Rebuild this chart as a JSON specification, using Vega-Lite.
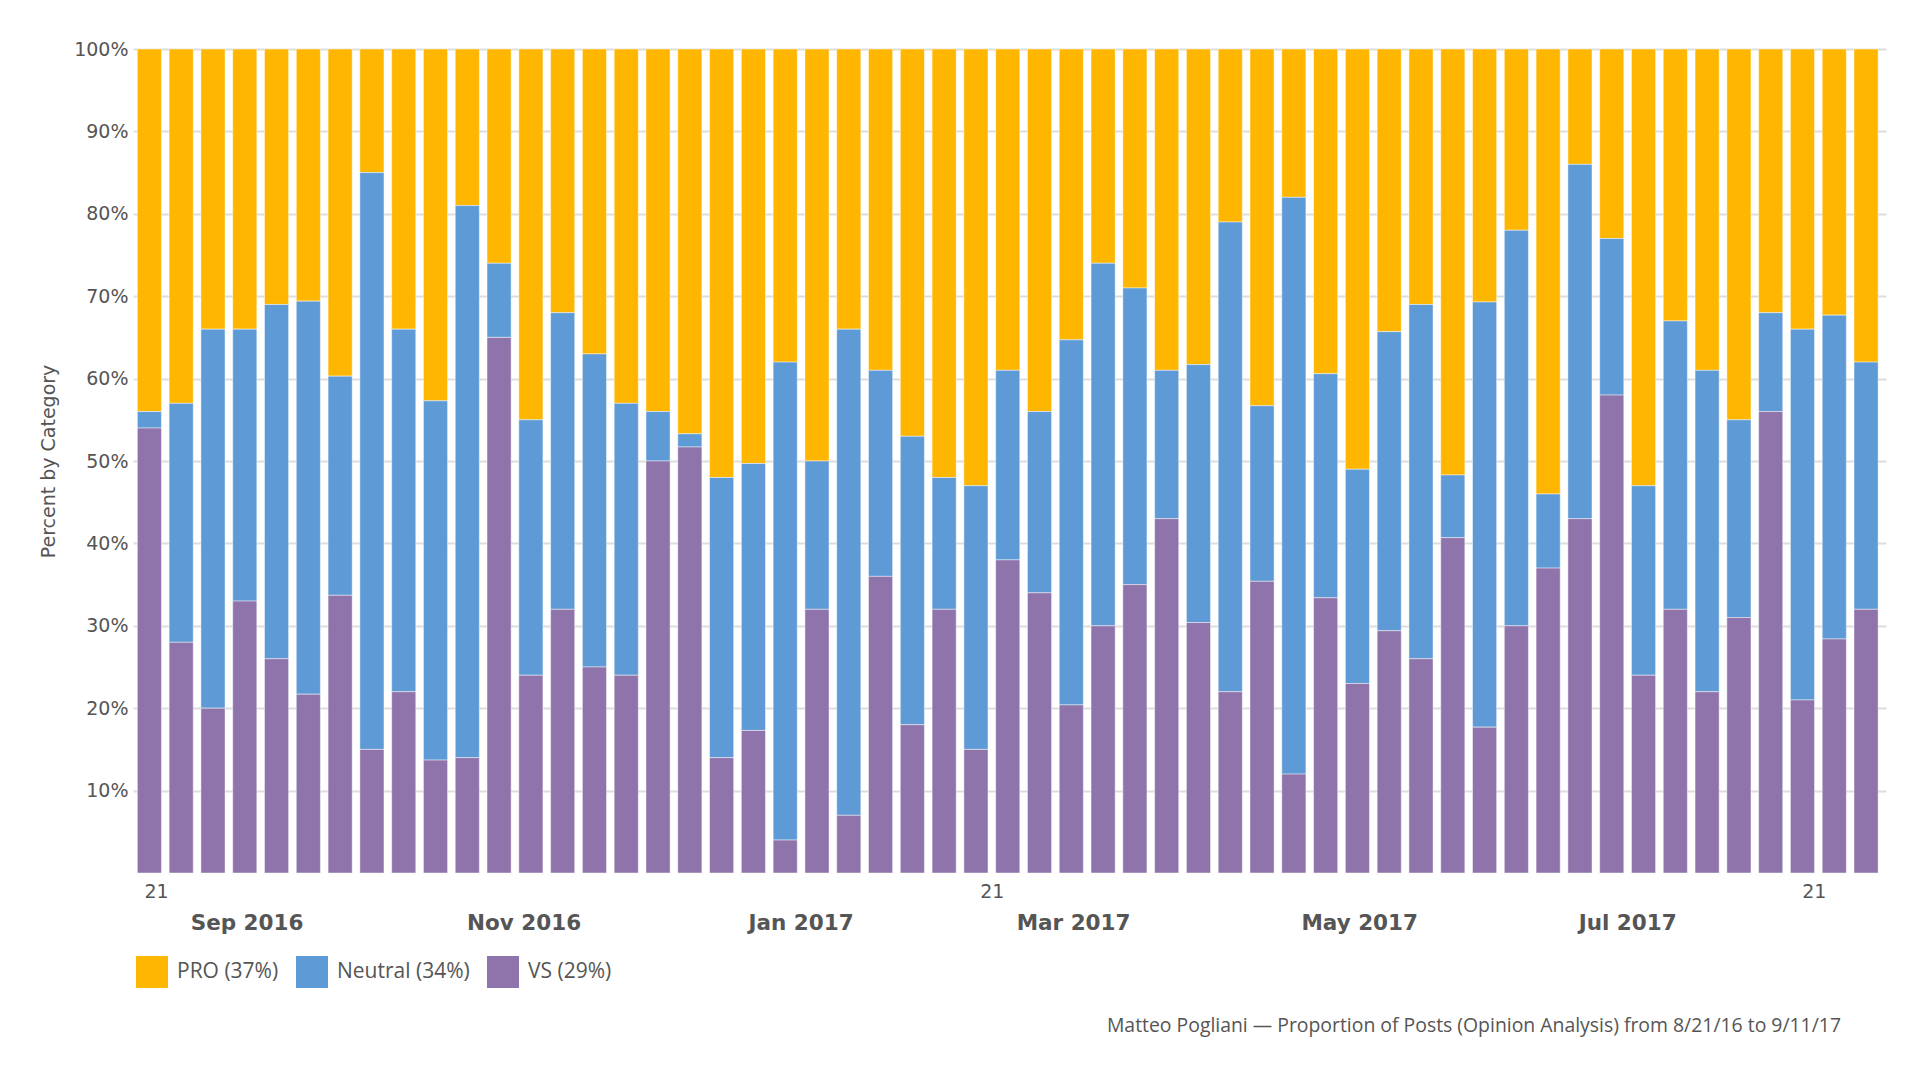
{
  "$schema": "https://vega.github.io/schema/vega-lite/v6.json",
  "width": 1753,
  "height": 824,
  "autosize": {"type": "none"},
  "padding": {"left": 133, "top": 49, "right": 34, "bottom": 207},
  "background": "white",
  "config": {"view": {"stroke": null}},
  "title": {
    "text": "Matteo Pogliani — Proportion of Posts (Opinion Analysis) from 8/21/16 to 9/11/17",
    "orient": "bottom", "anchor": "end", "frame": "group",
    "font": "Open Sans", "fontSize": 19.4, "fontWeight": "normal", "color": "#555555",
    "dx": -45, "offset": 29
  },
  "data": {
    "values": [
      {"week": "2016-08-21", "VS": 54, "Neutral": 2, "PRO": 44},
      {"week": "2016-08-28", "VS": 28, "Neutral": 29, "PRO": 43},
      {"week": "2016-09-04", "VS": 20, "Neutral": 46, "PRO": 34},
      {"week": "2016-09-11", "VS": 33, "Neutral": 33, "PRO": 34},
      {"week": "2016-09-18", "VS": 26, "Neutral": 43, "PRO": 31},
      {"week": "2016-09-25", "VS": 21.7, "Neutral": 47.7, "PRO": 30.6},
      {"week": "2016-10-02", "VS": 33.7, "Neutral": 26.6, "PRO": 39.7},
      {"week": "2016-10-09", "VS": 15, "Neutral": 70, "PRO": 15},
      {"week": "2016-10-16", "VS": 22, "Neutral": 44, "PRO": 34},
      {"week": "2016-10-23", "VS": 13.7, "Neutral": 43.6, "PRO": 42.7},
      {"week": "2016-10-30", "VS": 14, "Neutral": 67, "PRO": 19},
      {"week": "2016-11-06", "VS": 65, "Neutral": 9, "PRO": 26},
      {"week": "2016-11-13", "VS": 24, "Neutral": 31, "PRO": 45},
      {"week": "2016-11-20", "VS": 32, "Neutral": 36, "PRO": 32},
      {"week": "2016-11-27", "VS": 25, "Neutral": 38, "PRO": 37},
      {"week": "2016-12-04", "VS": 24, "Neutral": 33, "PRO": 43},
      {"week": "2016-12-11", "VS": 50, "Neutral": 6, "PRO": 44},
      {"week": "2016-12-18", "VS": 51.7, "Neutral": 1.6, "PRO": 46.7},
      {"week": "2016-12-25", "VS": 14, "Neutral": 34, "PRO": 52},
      {"week": "2017-01-01", "VS": 17.3, "Neutral": 32.4, "PRO": 50.3},
      {"week": "2017-01-08", "VS": 4, "Neutral": 58, "PRO": 38},
      {"week": "2017-01-15", "VS": 32, "Neutral": 18, "PRO": 50},
      {"week": "2017-01-22", "VS": 7, "Neutral": 59, "PRO": 34},
      {"week": "2017-01-29", "VS": 36, "Neutral": 25, "PRO": 39},
      {"week": "2017-02-05", "VS": 18, "Neutral": 35, "PRO": 47},
      {"week": "2017-02-12", "VS": 32, "Neutral": 16, "PRO": 52},
      {"week": "2017-02-19", "VS": 15, "Neutral": 32, "PRO": 53},
      {"week": "2017-02-26", "VS": 38, "Neutral": 23, "PRO": 39},
      {"week": "2017-03-05", "VS": 34, "Neutral": 22, "PRO": 44},
      {"week": "2017-03-12", "VS": 20.4, "Neutral": 44.3, "PRO": 35.3},
      {"week": "2017-03-19", "VS": 30, "Neutral": 44, "PRO": 26},
      {"week": "2017-03-26", "VS": 35, "Neutral": 36, "PRO": 29},
      {"week": "2017-04-02", "VS": 43, "Neutral": 18, "PRO": 39},
      {"week": "2017-04-09", "VS": 30.4, "Neutral": 31.3, "PRO": 38.3},
      {"week": "2017-04-16", "VS": 22, "Neutral": 57, "PRO": 21},
      {"week": "2017-04-23", "VS": 35.4, "Neutral": 21.3, "PRO": 43.3},
      {"week": "2017-04-30", "VS": 12, "Neutral": 70, "PRO": 18},
      {"week": "2017-05-07", "VS": 33.4, "Neutral": 27.2, "PRO": 39.4},
      {"week": "2017-05-14", "VS": 23, "Neutral": 26, "PRO": 51},
      {"week": "2017-05-21", "VS": 29.4, "Neutral": 36.3, "PRO": 34.3},
      {"week": "2017-05-28", "VS": 26, "Neutral": 43, "PRO": 31},
      {"week": "2017-06-04", "VS": 40.7, "Neutral": 7.6, "PRO": 51.7},
      {"week": "2017-06-11", "VS": 17.7, "Neutral": 51.6, "PRO": 30.7},
      {"week": "2017-06-18", "VS": 30, "Neutral": 48, "PRO": 22},
      {"week": "2017-06-25", "VS": 37, "Neutral": 9, "PRO": 54},
      {"week": "2017-07-02", "VS": 43, "Neutral": 43, "PRO": 14},
      {"week": "2017-07-09", "VS": 58, "Neutral": 19, "PRO": 23},
      {"week": "2017-07-16", "VS": 24, "Neutral": 23, "PRO": 53},
      {"week": "2017-07-23", "VS": 32, "Neutral": 35, "PRO": 33},
      {"week": "2017-07-30", "VS": 22, "Neutral": 39, "PRO": 39},
      {"week": "2017-08-06", "VS": 31, "Neutral": 24, "PRO": 45},
      {"week": "2017-08-13", "VS": 56, "Neutral": 12, "PRO": 32},
      {"week": "2017-08-20", "VS": 21, "Neutral": 45, "PRO": 34},
      {"week": "2017-08-27", "VS": 28.4, "Neutral": 39.3, "PRO": 32.3},
      {"week": "2017-09-03", "VS": 32, "Neutral": 30, "PRO": 38}
    ]
  },
  "transform": [
    {"fold": ["PRO", "Neutral", "VS"], "as": ["opinion", "pct"]},
    {"calculate": "indexof(['VS', 'Neutral', 'PRO'], datum.opinion)", "as": "stackOrder"}
  ],
  "resolve": {"axis": {"x": "independent"}},
  "layer": [
    {
      "mark": {"type": "bar", "width": {"band": 0.79}, "stroke": "#ffffff", "strokeWidth": 1, "strokeOpacity": 0.45},
      "encoding": {
        "x": {
          "field": "week", "type": "temporal", "timeUnit": "utcyearweek",
          "scale": {"type": "utc", "domain": [{"year": 2016, "month": 8, "date": 21, "utc": true}, {"year": 2017, "month": 9, "date": 11, "utc": true}]},
          "axis": {
            "title": null, "orient": "bottom", "grid": false, "ticks": false, "domain": false,
            "values": [{"year": 2016, "month": 8, "date": 21, "utc": true}, {"year": 2017, "month": 2, "date": 21, "utc": true}, {"year": 2017, "month": 8, "date": 21, "utc": true}],
            "format": "%d", "labelAlign": "left", "labelOffset": 11, "labelPadding": 9,
            "labelFont": "DejaVu Sans", "labelFontSize": 19, "labelColor": "#555555", "labelFlush": false, "labelOverlap": false
          }
        },
        "y": {
          "field": "pct", "type": "quantitative", "stack": "normalize",
          "scale": {"domain": [0, 1], "nice": false},
          "axis": {
            "title": "Percent by Category", "titleFont": "DejaVu Sans", "titleFontSize": 19, "titleFontWeight": "normal",
            "titleColor": "#555555", "titlePadding": 15,
            "values": [0.1, 0.2, 0.3, 0.4, 0.5, 0.6, 0.7, 0.8, 0.9, 1.0], "format": ".0%",
            "labelFont": "DejaVu Sans", "labelFontSize": 19, "labelColor": "#555555", "labelPadding": 5,
            "ticks": false, "domain": false, "gridColor": "#dddddd", "gridWidth": 2
          }
        },
        "order": {"field": "stackOrder", "type": "quantitative", "sort": "ascending"},
        "color": {
          "field": "opinion", "type": "nominal", "sort": ["PRO", "Neutral", "VS"],
          "scale": {"domain": ["PRO", "Neutral", "VS"], "range": ["#FFB600", "#5E9BD6", "#8F74AB"]},
          "legend": {
            "title": null, "orient": "none", "legendX": 3, "legendY": 907, "direction": "horizontal",
            "symbolType": "square", "symbolSize": 1024, "symbolStrokeWidth": 0, "symbolOpacity": 1,
            "labelFont": "Open Sans", "labelFontSize": 21, "labelColor": "#555555", "labelOffset": 9,
            "columnPadding": 17, "labelLimit": 0,
            "labelExpr": "datum.label == 'PRO' ? 'PRO (37%)' : datum.label == 'Neutral' ? 'Neutral (34%)' : 'VS (29%)'"
          }
        }
      }
    },
    {
      "mark": {"type": "rule", "opacity": 0},
      "encoding": {
        "x": {
          "field": "week", "type": "temporal",
          "axis": {
            "title": null, "orient": "bottom", "grid": false, "ticks": false, "domain": false,
            "values": [{"year": 2016, "month": 9, "date": 15, "utc": true}, {"year": 2016, "month": 11, "date": 15, "utc": true}, {"year": 2017, "month": 1, "date": 15, "utc": true}, {"year": 2017, "month": 3, "date": 16, "utc": true}, {"year": 2017, "month": 5, "date": 18, "utc": true}, {"year": 2017, "month": 7, "date": 16, "utc": true}],
            "format": "%b %Y", "labelPadding": 39, "labelFlush": false, "labelOverlap": false,
            "labelFont": "DejaVu Sans", "labelFontSize": 21.5, "labelFontWeight": "bold", "labelColor": "#555555"
          }
        }
      }
    }
  ]
}
